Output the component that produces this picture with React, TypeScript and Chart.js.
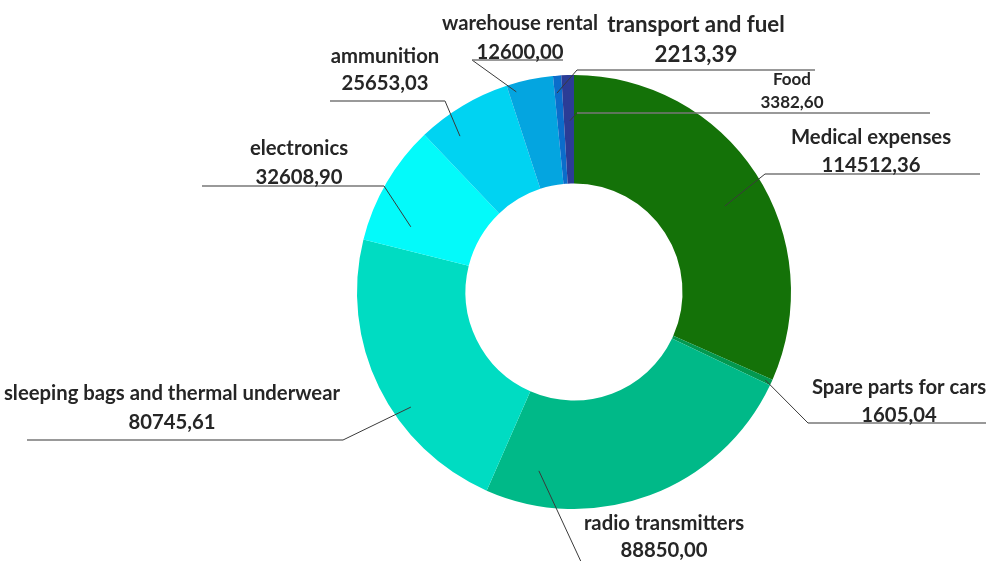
import React, { useEffect, useRef } from "react";
import { Chart, registerables } from "chart.js";

Chart.register(...registerables);

const categories = [
  "Medical expenses",
  "Spare parts for cars",
  "radio transmitters",
  "sleeping bags and thermal underwear",
  "electronics",
  "ammunition",
  "warehouse rental",
  "transport and fuel",
  "Food",
];

const amounts = [114512.36, 1605.04, 88850.0, 80745.61, 32608.9, 25653.03, 12600.0, 2213.39, 3382.6];

const sliceColors = [
  "#147208",
  "#03984f",
  "#00b988",
  "#00dcc2",
  "#03fafa",
  "#00d3f2",
  "#04a5e0",
  "#0b6dcb",
  "#2b3c96",
];

// label layout: offsets from doughnut centre (px), anchor position inside the slice
type LabelLayout = {
  tx: number; ny: number; vy: number; ly: number; ex: number; endX: number;
  t: number; r: number; size: number;
};
const labelLayout: LabelLayout[] = [
  { tx: 297, ny: -155, vy: -127, ly: -118, ex: 191, endX: 406, t: 0.53, r: 0.8, size: 20.3 },
  { tx: 325, ny: 95, vy: 123, ly: 131, ex: 234, endX: 416, t: 0.55, r: 0.97, size: 20.3 },
  { tx: 90, ny: 231, vy: 258, ly: 274, ex: 9, endX: 186, t: 0.857, r: 0.84, size: 20.3 },
  { tx: -402, ny: 101, vy: 130, ly: 148, ex: -231, endX: -547, t: 0.387, r: 0.92, size: 20.3 },
  { tx: -275, ny: -144, vy: -115, ly: -106, ex: -190, endX: -372, t: 0.24, r: 0.81, size: 20.3 },
  { tx: -189, ny: -236, vy: -209, ly: -191, ex: -129, endX: -244, t: 0.29, r: 0.89, size: 20.3 },
  { tx: -54, ny: -269, vy: -240, ly: -232, ex: -102, endX: -11, t: 0.16, r: 0.96, size: 20.3 },
  { tx: 122, ny: -267, vy: -237, ly: -222, ex: 3, endX: 241, t: 0.3, r: 0.92, size: 22.3 },
  { tx: 218, ny: -212, vy: -189, ly: -179, ex: 3, endX: 356, t: 0.6, r: 0.79, size: 17 },
];

const fmt = (v: number) => v.toFixed(2).replace(".", ",");

const labelPlugin = {
  id: "leaderLabels",
  afterDatasetsDraw(chart: any) {
    const ctx = chart.ctx as CanvasRenderingContext2D;
    const meta = chart.getDatasetMeta(0);
    const vals = chart.data.datasets[0].data as number[];
    meta.data.forEach((arc: any, i: number) => {
      const L = labelLayout[i];
      if (!L) return;
      const { x: cx, y: cy, startAngle, endAngle, outerRadius } = arc.getProps(
        ["x", "y", "startAngle", "endAngle", "outerRadius"],
        true
      );
      const a = startAngle + (endAngle - startAngle) * L.t;
      const ax = cx + Math.cos(a) * outerRadius * L.r;
      const ay = cy + Math.sin(a) * outerRadius * L.r;
      ctx.save();
      ctx.strokeStyle = "#3a3a3a";
      ctx.lineWidth = 1;
      ctx.beginPath();
      ctx.moveTo(ax, ay);
      ctx.lineTo(cx + L.ex, cy + L.ly);
      ctx.stroke();
      ctx.strokeStyle = "#777777";
      ctx.lineWidth = 1.5;
      ctx.beginPath();
      ctx.moveTo(cx + L.ex, cy + L.ly);
      ctx.lineTo(cx + L.endX, cy + L.ly);
      ctx.stroke();
      ctx.fillStyle = "#262626";
      ctx.textAlign = "center";
      ctx.textBaseline = "middle";
      ctx.font = `700 ${L.size}px Lato`;
      ctx.fillText(chart.data.labels[i], cx + L.tx, cy + L.ny);
      ctx.fillText(fmt(vals[i]), cx + L.tx, cy + L.vy);
      ctx.restore();
    });
  },
};

export default function App() {
  const ref = useRef<HTMLCanvasElement | null>(null);
  useEffect(() => {
    if (!ref.current) return;
    const chart = new Chart(ref.current, {
      type: "doughnut",
      data: {
        labels: categories,
        datasets: [
          {
            data: amounts,
            backgroundColor: sliceColors,
            borderWidth: 0,
          },
        ],
      },
      options: {
        animation: false,
        responsive: true,
        maintainAspectRatio: false,
        cutout: "50%",
        layout: { padding: { left: 357, right: 195, top: 75, bottom: 52 } },
        plugins: { legend: { display: false }, tooltip: { enabled: false } },
      },
      plugins: [labelPlugin],
    });
    return () => chart.destroy();
  }, []);
  return (
    <div style={{ position: "fixed", left: 0, top: 0, width: 986, height: 561, background: "#fff" }}>
      <canvas ref={ref} />
    </div>
  );
}
